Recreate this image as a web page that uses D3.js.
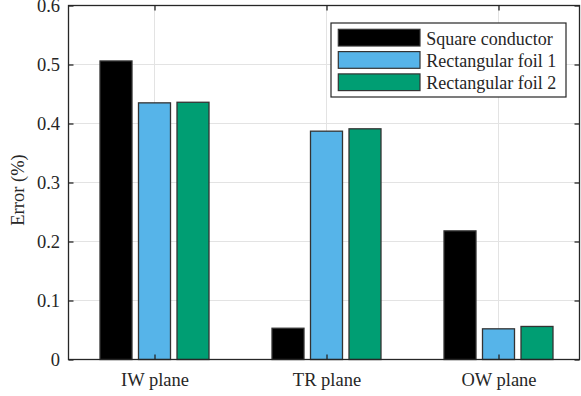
<!DOCTYPE html>
<html>
<head>
<meta charset="utf-8">
<script src="https://cdn.jsdelivr.net/npm/d3@7"></script>
<style>
  html, body { margin: 0; padding: 0; background: #fff; }
  svg { display: block; }
  text { font-family: "Liberation Serif", "Times New Roman", serif; fill: #262626; }
</style>
</head>
<body>
<svg id="chart" width="581" height="396"></svg>
<script>
// Error per measurement plane for each conductor shape
const categories = ["IW plane", "TR plane", "OW plane"];
const seriesNames = ["Square conductor", "Rectangular foil 1", "Rectangular foil 2"];
const squareConductor = [0.506, 0.053, 0.218];
const rectFoil1 = [0.435, 0.387, 0.052];
const rectFoil2 = [0.436, 0.391, 0.056];
const yTicks = [0, 0.1, 0.2, 0.3, 0.4, 0.5, 0.6];
const seriesColors = ["#000000", "#56B4E9", "#009E73"];

const series = [squareConductor, rectFoil1, rectFoil2];

const svg = d3.select("#chart");
const plotLeft = 68.5, plotTop = 5.5, plotBottom = 359.5, plotRight = 579.5;
const fontSize = 18.5;
const serif = "'Liberation Serif', 'Times New Roman', serif";

// Category positions run from 0.5 to 3.5 as in a grouped bar plot
const x = d3.scaleLinear().domain([0.5, 3.5]).range([plotLeft, plotLeft + 3 * 172]);
const y = d3.scaleLinear().domain([0, 0.6]).range([plotBottom, plotTop]);

const barWidthUnits = 32 / 172;
const offsetUnits = 38.5 / 172;

// Grid
const grid = svg.append("g");
grid.selectAll("line.h").data(yTicks.slice(1, -1)).enter().append("line")
  .attr("x1", plotLeft).attr("x2", plotRight)
  .attr("y1", d => y(d)).attr("y2", d => y(d))
  .attr("stroke", "#e3e3e3").attr("stroke-width", 1);
grid.selectAll("line.v").data(categories).enter().append("line")
  .attr("x1", (d, i) => x(i + 1)).attr("x2", (d, i) => x(i + 1))
  .attr("y1", plotTop).attr("y2", plotBottom)
  .attr("stroke", "#e3e3e3").attr("stroke-width", 1);

// Bars
series.forEach((vals, s) => {
  svg.append("g").selectAll("rect").data(vals).enter().append("rect")
    .attr("x", (d, i) => x(i + 1 + (s - 1) * offsetUnits - barWidthUnits / 2))
    .attr("width", x(1 + barWidthUnits) - x(1))
    .attr("y", d => y(d))
    .attr("height", d => y(0) - y(d))
    .attr("fill", seriesColors[s])
    .attr("stroke", "#333333").attr("stroke-width", 1.3);
});

// Axes box
const axisColor = "#262626";
svg.append("rect").attr("x", plotLeft).attr("y", plotTop)
  .attr("width", plotRight - plotLeft).attr("height", plotBottom - plotTop)
  .attr("fill", "none").attr("stroke", axisColor).attr("stroke-width", 1.3);

function styleAxis(g) {
  g.attr("font-family", serif).attr("font-size", fontSize);
  g.select(".domain").remove();
  g.selectAll("line").attr("stroke", axisColor).attr("stroke-width", 1.3);
  g.selectAll("text").attr("fill", axisColor);
}

// Y axis ticks (left and right, inward) and labels
const gy = svg.append("g").attr("transform", `translate(${plotLeft},0)`)
  .call(d3.axisLeft(y).tickValues(yTicks).tickSize(-5).tickPadding(8.5)
    .tickFormat(d => d === 0 ? "0" : d3.format(".1f")(d)));
styleAxis(gy);

const gyr = svg.append("g").attr("transform", `translate(${plotRight},0)`)
  .call(d3.axisRight(y).tickValues(yTicks).tickSize(-5).tickFormat(""));
styleAxis(gyr);

// X axis ticks (bottom and top, inward) and category labels
const gx = svg.append("g").attr("transform", `translate(0,${plotBottom})`)
  .call(d3.axisBottom(x).tickValues([1, 2, 3]).tickSize(-5).tickPadding(13.5)
    .tickFormat(d => categories[d - 1]));
styleAxis(gx);

const gxt = svg.append("g").attr("transform", `translate(0,${plotTop})`)
  .call(d3.axisTop(x).tickValues([1, 2, 3]).tickSize(-5).tickFormat(""));
styleAxis(gxt);

// Y label
svg.append("text")
  .attr("transform", "translate(23.5,190) rotate(-90)")
  .attr("text-anchor", "middle")
  .attr("font-size", fontSize)
  .text("Error (%)");

// Legend
const legend = svg.append("g").attr("transform", "translate(331,23)");
legend.append("rect").attr("width", 235).attr("height", 74)
  .attr("fill", "#fff").attr("stroke", axisColor).attr("stroke-width", 1.2);
seriesNames.forEach((name, i) => {
  const row = legend.append("g").attr("transform", `translate(7.3,${6.3 + i * 22.3})`);
  row.append("rect").attr("width", 81.7).attr("height", 16.7)
    .attr("fill", seriesColors[i]).attr("stroke", "#333333").attr("stroke-width", 1.2);
  row.append("text").attr("x", 88).attr("y", 15.2).attr("font-size", 18).text(name);
});
</script>
</body>
</html>
